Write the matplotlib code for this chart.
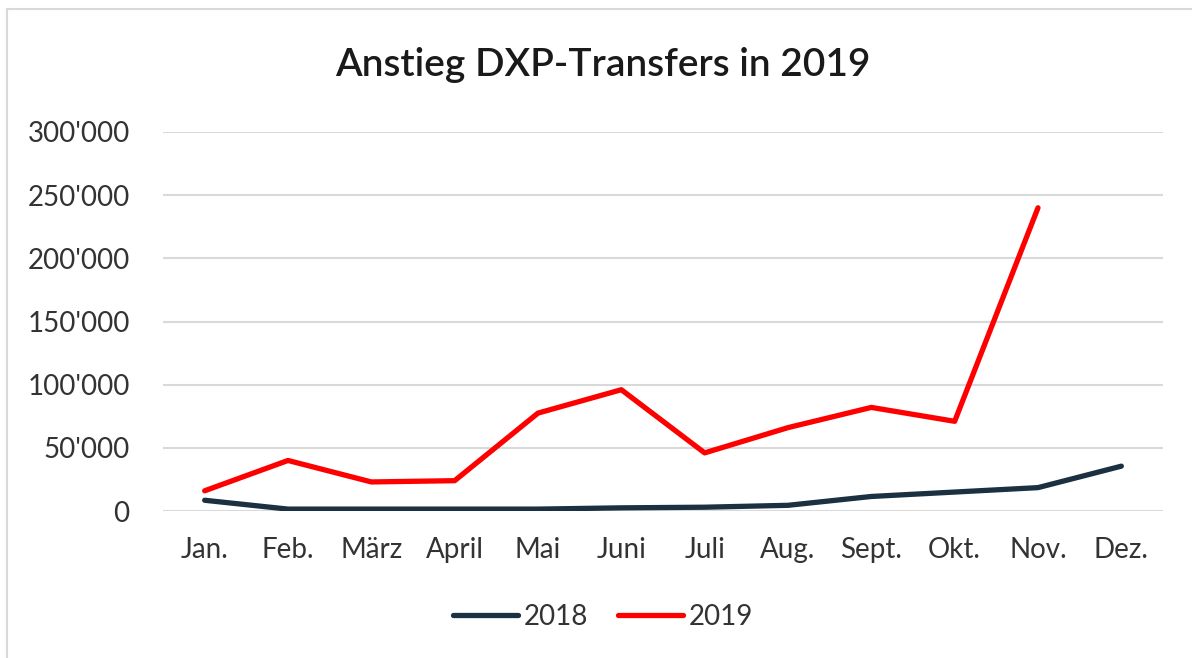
import matplotlib
matplotlib.use('Agg')
import matplotlib.pyplot as plt
from matplotlib.ticker import FuncFormatter
import numpy as np

plt.rcParams['font.family'] = ['Lato', 'DejaVu Sans']

# Data
months = ['Jan.', 'Feb.', 'März', 'April', 'Mai', 'Juni',
          'Juli', 'Aug.', 'Sept.', 'Okt.', 'Nov.', 'Dez.']
transfers_2018 = [8500, 1500, 1500, 1500, 1500, 2500,
                  3000, 4500, 11500, 15000, 18500, 35500]
transfers_2019 = [16000, 40000, 23000, 24000, 77500, 96000,
                  46000, 66000, 82000, 71000, 240000, np.nan]
y_ticks = [0, 50000, 100000, 150000, 200000, 250000, 300000]

colors = {'2018': '#1b3040', '2019': '#ff0000', 'grid': '#d9d9d9', 'text': '#333333'}

fig = plt.figure(figsize=(11.92, 6.58), dpi=100)
ax = fig.add_axes([163 / 1192, 1 - 511 / 658, 1000 / 1192, 379 / 658])

x = np.arange(len(months))
ax.plot(x, transfers_2018, color=colors['2018'], linewidth=3.8,
        solid_capstyle='round', solid_joinstyle='round', label='2018')
ax.plot(x, transfers_2019, color=colors['2019'], linewidth=3.8,
        solid_capstyle='round', solid_joinstyle='round', label='2019')

ax.set_xlim(-0.5, len(months) - 0.5)
ax.set_ylim(0, 300000)
ax.set_xticks(x)
ax.set_xticklabels(months)
ax.set_yticks(y_ticks)
ax.yaxis.set_major_formatter(FuncFormatter(lambda v, p: f"{int(v):,}".replace(',', "'")))
ax.tick_params(length=0, labelsize=20, labelcolor=colors['text'])
ax.tick_params(axis='x', pad=19)
ax.tick_params(axis='y', pad=24)
ax.grid(axis='y', color=colors['grid'], linewidth=1.5)
ax.set_axisbelow(True)
for s in ax.spines.values():
    s.set_visible(False)

fig.text(603 / 1192, 1 - 65 / 658, 'Anstieg DXP-Transfers in 2019', ha='center', va='center',
         fontsize=28, fontweight='semibold', color='#1a1a1a')

fig.legend(loc='center', bbox_to_anchor=(603 / 1192, 1 - 617 / 658), ncol=2, frameon=False,
           fontsize=20, handlelength=2.35, columnspacing=1.05, handletextpad=0.2,
           labelcolor=colors['text'])

# light frame around the picture
fig.add_artist(plt.Line2D([7 / 1192, 7 / 1192], [0, 1 - 9 / 658], transform=fig.transFigure,
                          color='#d9d9d9', linewidth=1.5))
fig.add_artist(plt.Line2D([7 / 1192, 1], [1 - 9 / 658, 1 - 9 / 658], transform=fig.transFigure,
                          color='#d9d9d9', linewidth=1.5))

fig.savefig('out.png', dpi=100)
